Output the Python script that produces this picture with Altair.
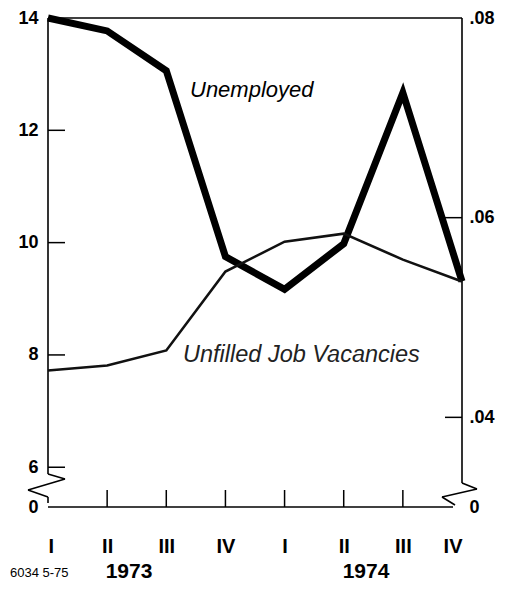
import altair as alt
import pandas as pd

# ---- data ----
quarters = ["I", "II", "III", "IV", "I", "II", "III", "IV"]
years = ["1973", "1974"]
unemployed = [14.0, 13.77, 13.06, 9.75, 9.17, 9.98, 12.67, 9.31]
vacancies = [0.0447, 0.0452, 0.0467, 0.0546, 0.0576, 0.0584, 0.0558, 0.0536]
left_ticks = [6, 8, 10, 12, 14]
right_ticks = [0.04, 0.06, 0.08]
series_labels = ["Unemployed", "Unfilled Job Vacancies"]
code_label = "6034  5-75"

W, H = 414, 489
TOP = 10
FONT = "Liberation Sans, Arial, Helvetica, sans-serif"
L_DOMAIN = [5.292, 14]
R_DOMAIN = [0.03102, 0.08]

df = pd.DataFrame({"q": list(range(len(quarters))), "quarter": quarters,
                   "unemployed": unemployed, "vacancies": vacancies})
one = pd.DataFrame({"a": [0]})

x_scale = alt.Scale(domain=[0, len(quarters) - 1], nice=False, zero=False)
labels_js = "[" + ",".join(f"'{q}'" for q in quarters) + "]"
x_axis = alt.Axis(values=list(range(len(quarters))), labelExpr=f"{labels_js}[datum.value]",
                  domain=False, ticks=False, grid=False, labelPadding=29,
                  labelFontSize=20, labelFontWeight="bold", labelFont=FONT,
                  labelColor="black", title=None)

yl_scale = alt.Scale(domain=L_DOMAIN, nice=False, zero=False)
yr_scale = alt.Scale(domain=R_DOMAIN, nice=False, zero=False)

left_axis = alt.Axis(orient="left", values=[L_DOMAIN[0]] + left_ticks,
                     labelExpr="datum.value < 5.9 ? '0' : format(datum.value, 'd')",
                     domain=False, ticks=False, grid=False, labelPadding=10,
                     labelFontSize=18, labelFontWeight="bold", labelFont=FONT,
                     labelColor="black", title=None)
right_axis = alt.Axis(orient="right", values=[R_DOMAIN[0]] + right_ticks,
                      labelExpr="datum.value < 0.035 ? '0' : replace(format(datum.value, '.2f'), '0.', '.')",
                      domain=False, ticks=False, grid=False, labelPadding=7,
                      labelFontSize=18, labelFontWeight="bold", labelFont=FONT,
                      labelColor="black", title=None)

# ---- left-scale group ----
unemp_line = alt.Chart(df).mark_line(color="black", strokeWidth=7, strokeJoin="miter").encode(
    x=alt.X("q:Q", scale=x_scale, axis=x_axis),
    y=alt.Y("unemployed:Q", scale=yl_scale, axis=left_axis),
)

lt_df = pd.DataFrame({"v": left_ticks[:-1]})
left_tick_rules = alt.Chart(lt_df).mark_rule(color="black", strokeWidth=1.5).encode(
    y=alt.Y("v:Q", scale=yl_scale, axis=left_axis),
    x=alt.value(0), x2=alt.value(17),
)

xt_df = pd.DataFrame({"q": list(range(1, len(quarters) - 1))})
x_tick_rules = alt.Chart(xt_df).mark_rule(color="black", strokeWidth=1.5).encode(
    x=alt.X("q:Q", scale=x_scale, axis=x_axis),
    y=alt.value(H), y2=alt.value(H - 17),
)

# frame and axis breaks (decoration)
segments = [
    (0, 0, W, 0),                  # top frame
    (0, 0, 0, H - 33),             # left axis line
    (W, 0, W, H - 24),             # right axis line
    (0, H, W - 9, H),              # baseline
    (0, H - 33, 17, H - 28),       # left break
    (17, H - 28, -20, H - 17),
    (-20, H - 17, 0, H - 10),
    (0, H - 10, 0, H - 4),
    (W, H - 24, W + 15, H - 18),   # right break
    (W + 15, H - 18, W - 20, H - 10),
    (W - 20, H - 10, W - 7, H - 2),
]
deco = [
    alt.Chart(one).mark_rule(color="black", strokeWidth=1.6).encode(
        x=alt.value(x1), y=alt.value(y1), x2=alt.value(x2), y2=alt.value(y2))
    for (x1, y1, x2, y2) in segments
]

texts = [
    alt.Chart(one).mark_text(text=series_labels[0], font=FONT, fontSize=22, fontStyle="italic",
                             align="left", baseline="middle", color="black").encode(
        x=alt.value(142), y=alt.value(72)),
    alt.Chart(one).mark_text(text=series_labels[1], font=FONT, fontSize=23.5, fontStyle="italic",
                             align="left", baseline="middle", color="#222").encode(
        x=alt.value(135), y=alt.value(337)),
    alt.Chart(one).mark_text(text=years[0], font=FONT, fontSize=21, fontWeight="bold",
                             align="center", baseline="middle", color="black").encode(
        x=alt.value(81), y=alt.value(554)),
    alt.Chart(one).mark_text(text=years[1], font=FONT, fontSize=21, fontWeight="bold",
                             align="center", baseline="middle", color="black").encode(
        x=alt.value(318), y=alt.value(554)),
    alt.Chart(one).mark_text(text=code_label, font=FONT, fontSize=13,
                             align="left", baseline="middle", color="black").encode(
        x=alt.value(-38), y=alt.value(555)),
]

left_group = alt.layer(unemp_line, left_tick_rules, x_tick_rules, *deco, *texts)

# ---- right-scale group ----
vac_line = alt.Chart(df).mark_line(color="#111", strokeWidth=2.6).encode(
    x=alt.X("q:Q", scale=x_scale, axis=x_axis),
    y=alt.Y("vacancies:Q", scale=yr_scale, axis=right_axis),
)
rt_df = pd.DataFrame({"v": right_ticks[:-1]})
right_tick_rules = alt.Chart(rt_df).mark_rule(color="black", strokeWidth=1.5).encode(
    y=alt.Y("v:Q", scale=yr_scale, axis=right_axis),
    x=alt.value(W - 17), x2=alt.value(W),
)
right_group = alt.layer(vac_line, right_tick_rules)

chart = alt.layer(left_group, right_group).resolve_scale(y="independent").properties(
    width=W, height=H,
    autosize=alt.AutoSizeParams(type="none"),
    padding={"left": 40, "top": TOP, "right": 41, "bottom": 76},
).configure_view(stroke=None)

chart.save("out.html", embed_options={"renderer": "svg", "actions": False})
